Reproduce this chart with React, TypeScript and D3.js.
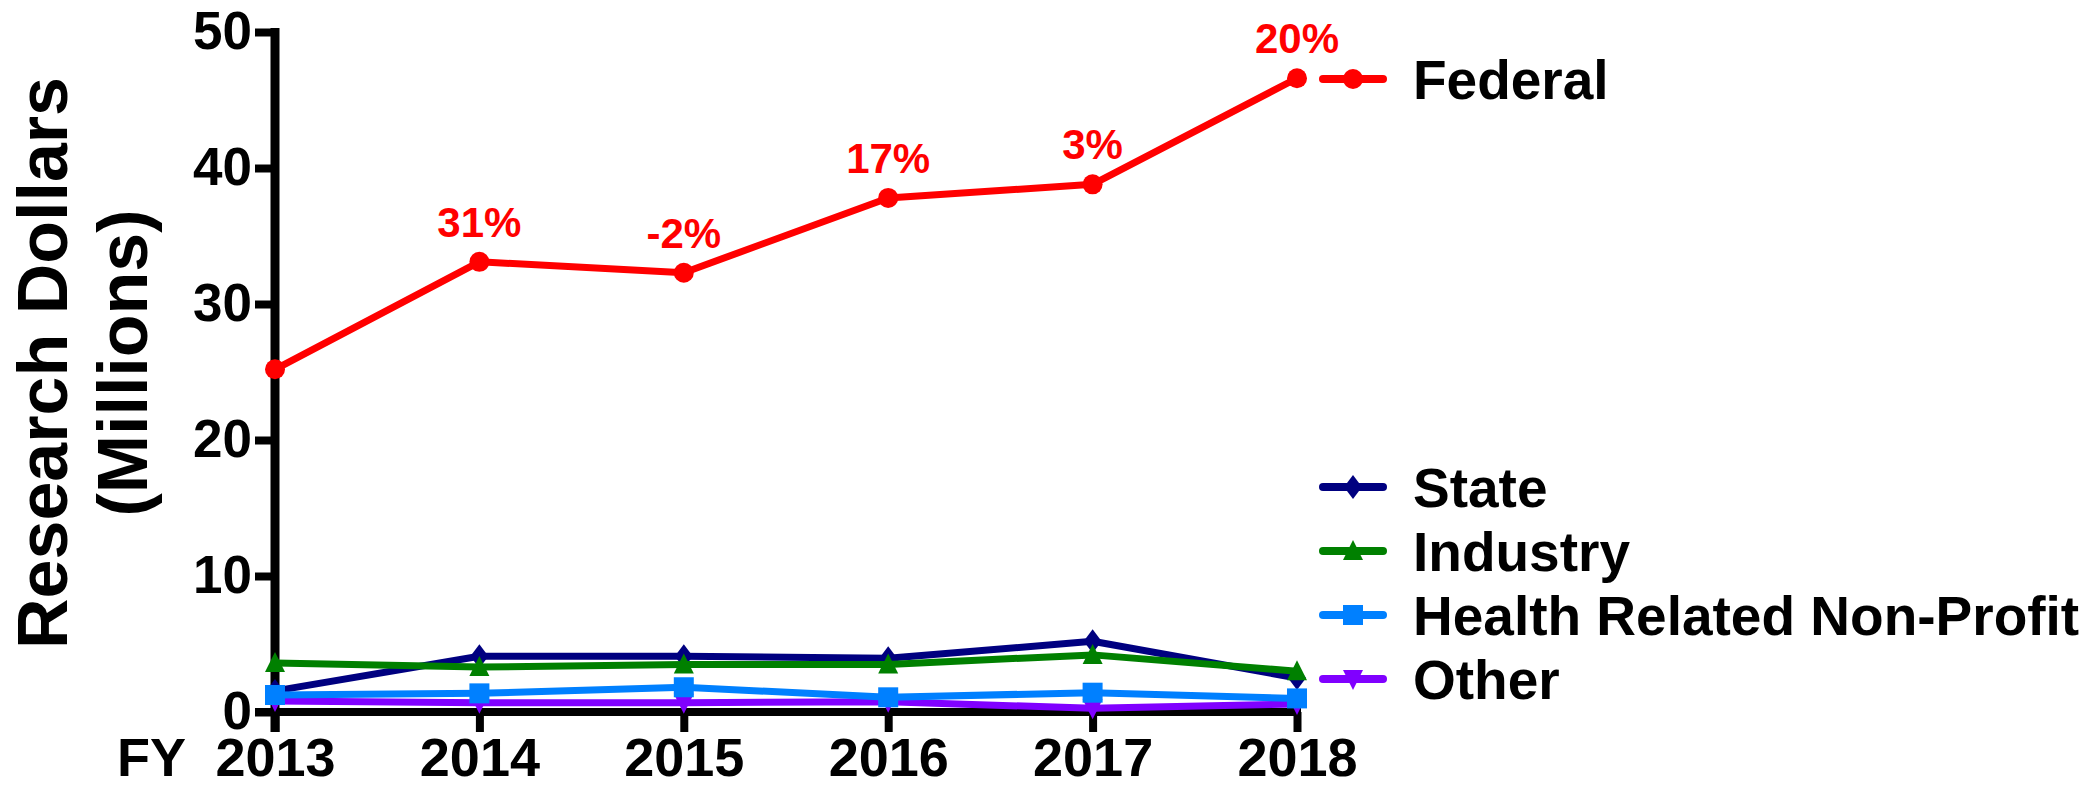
import React, { useEffect, useRef } from 'react';
import * as d3 from 'd3';

// data (millions of dollars)
const years = ['2013', '2014', '2015', '2016', '2017', '2018'];
const federal = [25.2, 33.1, 32.3, 37.8, 38.8, 46.6];
const state = [1.55, 4.1, 4.1, 3.95, 5.2, 2.5];
const industry = [3.6, 3.3, 3.5, 3.5, 4.2, 3.0];
const healthNonProfit = [1.25, 1.37, 1.82, 1.08, 1.42, 1.0];
const other = [0.8, 0.68, 0.68, 0.76, 0.27, 0.59];
const federalChange = ['', '31%', '-2%', '17%', '3%', '20%'];
const yTicks = [0, 10, 20, 30, 40, 50];

const FONT = '"Liberation Sans", Arial, Helvetica, sans-serif';

type Shape = 'circle' | 'diamond' | 'triangle' | 'square' | 'triangleDown';

interface Series {
    name: string;
    values: number[];
    color: string;
    shape: Shape;
}

const series: Series[] = [
    { name: 'Federal', values: federal, color: '#ff0000', shape: 'circle' },
    { name: 'State', values: state, color: '#000080', shape: 'diamond' },
    { name: 'Industry', values: industry, color: '#008000', shape: 'triangle' },
    { name: 'Health Related Non-Profit', values: healthNonProfit, color: '#0080ff', shape: 'square' },
    { name: 'Other', values: other, color: '#8000ff', shape: 'triangleDown' }
];

// marker outline centred at 0,0
function markerPath(shape: Shape): string {
    switch (shape) {
        case 'circle':
            return 'M-10,0A10,10 0 1,0 10,0A10,10 0 1,0 -10,0Z';
        case 'diamond':
            return 'M0,-12L9,0L0,12L-9,0Z';
        case 'triangle':
            return 'M0,-11L10,9L-10,9Z';
        case 'square':
            return 'M-10,-10H10V10H-10Z';
        case 'triangleDown':
            return 'M0,11L10,-9L-10,-9Z';
    }
}

export default function App() {
    const ref = useRef<SVGSVGElement>(null);

    useEffect(() => {
        const width = 2097;
        const height = 789;

        const svg = d3.select(ref.current);
        svg.selectAll('*').remove();
        svg.attr('width', width).attr('height', height);

        // scales
        const x = d3.scalePoint<string>().domain(years).range([275, 1297]);
        const y = d3.scaleLinear().domain([0, 50]).range([712, 32]);

        // y axis
        const yAxis = svg.append('g')
            .attr('transform', 'translate(275,0)')
            .call(d3.axisLeft(y).tickValues(yTicks).tickSize(20).tickPadding(3));
        yAxis.select('.domain').remove();
        yAxis.append('line')
            .attr('x1', 0).attr('x2', 0)
            .attr('y1', y(50) - 4).attr('y2', y(0) + 20)
            .attr('stroke', '#000').attr('stroke-width', 9);
        yAxis.selectAll('.tick line').attr('stroke', '#000').attr('stroke-width', 8);
        yAxis.selectAll('.tick text')
            .attr('fill', '#000')
            .style('font-family', FONT)
            .style('font-weight', 'bold')
            .style('font-size', '53px');

        // x axis
        const xAxis = svg.append('g')
            .attr('transform', 'translate(0,' + y(0) + ')')
            .call(d3.axisBottom(x).tickSize(20).tickPadding(6));
        xAxis.select('.domain').remove();
        xAxis.append('line')
            .attr('x1', 255).attr('x2', 1301)
            .attr('y1', 0).attr('y2', 0)
            .attr('stroke', '#000').attr('stroke-width', 8);
        xAxis.selectAll('.tick line').attr('stroke', '#000').attr('stroke-width', 8);
        xAxis.selectAll('.tick text')
            .attr('fill', '#000')
            .style('font-family', FONT)
            .style('font-weight', 'bold')
            .style('font-size', '54px');

        svg.append('text')
            .attr('x', 117)
            .attr('y', 776)
            .attr('fill', '#000')
            .style('font-family', FONT)
            .style('font-weight', 'bold')
            .style('font-size', '54px')
            .text('FY');

        // y axis title
        const title = svg.append('text')
            .attr('transform', 'translate(67,363) rotate(-90)')
            .attr('text-anchor', 'middle')
            .attr('fill', '#000')
            .style('font-family', FONT)
            .style('font-weight', 'bold')
            .style('font-size', '70px');
        title.append('tspan').attr('x', 0).attr('y', 0).text('Research Dollars');
        title.append('tspan').attr('x', 0).attr('y', 80).text('(Millions)');

        // lines, drawn bottom-up so Federal ends on top
        const line = d3.line<number>()
            .x((d, i) => x(years[i]) as number)
            .y(d => y(d));

        const drawOrder = [4, 1, 2, 3, 0];
        drawOrder.forEach(function(k) {
            const s = series[k];
            const g = svg.append('g');
            g.append('path')
                .datum(s.values)
                .attr('d', line)
                .attr('fill', 'none')
                .attr('stroke', s.color)
                .attr('stroke-width', 7)
                .attr('stroke-linejoin', 'round');
            g.selectAll('.marker')
                .data(s.values).enter()
                .append('path')
                .attr('class', 'marker')
                .attr('d', markerPath(s.shape))
                .attr('transform', (d, i) => 'translate(' + x(years[i]) + ',' + y(d) + ')')
                .attr('fill', s.color);
        });

        // percent change labels over Federal
        svg.selectAll('.pct')
            .data(federal).enter()
            .append('text')
            .attr('class', 'pct')
            .attr('x', (d, i) => x(years[i]) as number)
            .attr('y', d => y(d) - 25)
            .attr('text-anchor', 'middle')
            .attr('fill', '#ff0000')
            .style('font-family', FONT)
            .style('font-weight', 'bold')
            .style('font-size', '42px')
            .text((d, i) => federalChange[i]);

        // legend
        const legendY = [79, 487, 551, 615, 679];
        series.forEach(function(s, i) {
            const g = svg.append('g').attr('transform', 'translate(1323,' + legendY[i] + ')');
            g.append('line')
                .attr('x1', 0).attr('x2', 60)
                .attr('stroke', s.color)
                .attr('stroke-width', 8)
                .attr('stroke-linecap', 'round');
            g.append('path')
                .attr('d', markerPath(s.shape))
                .attr('transform', 'translate(30,0)')
                .attr('fill', s.color);
            g.append('text')
                .attr('x', 90)
                .attr('y', 20)
                .attr('fill', '#000')
                .style('font-family', FONT)
                .style('font-weight', 'bold')
                .style('font-size', '55px')
                .text(s.name);
        });
    }, []);

    return (
        <svg ref={ref} style={{ position: 'absolute', left: 0, top: 0, background: '#fff' }} />
    );
}
